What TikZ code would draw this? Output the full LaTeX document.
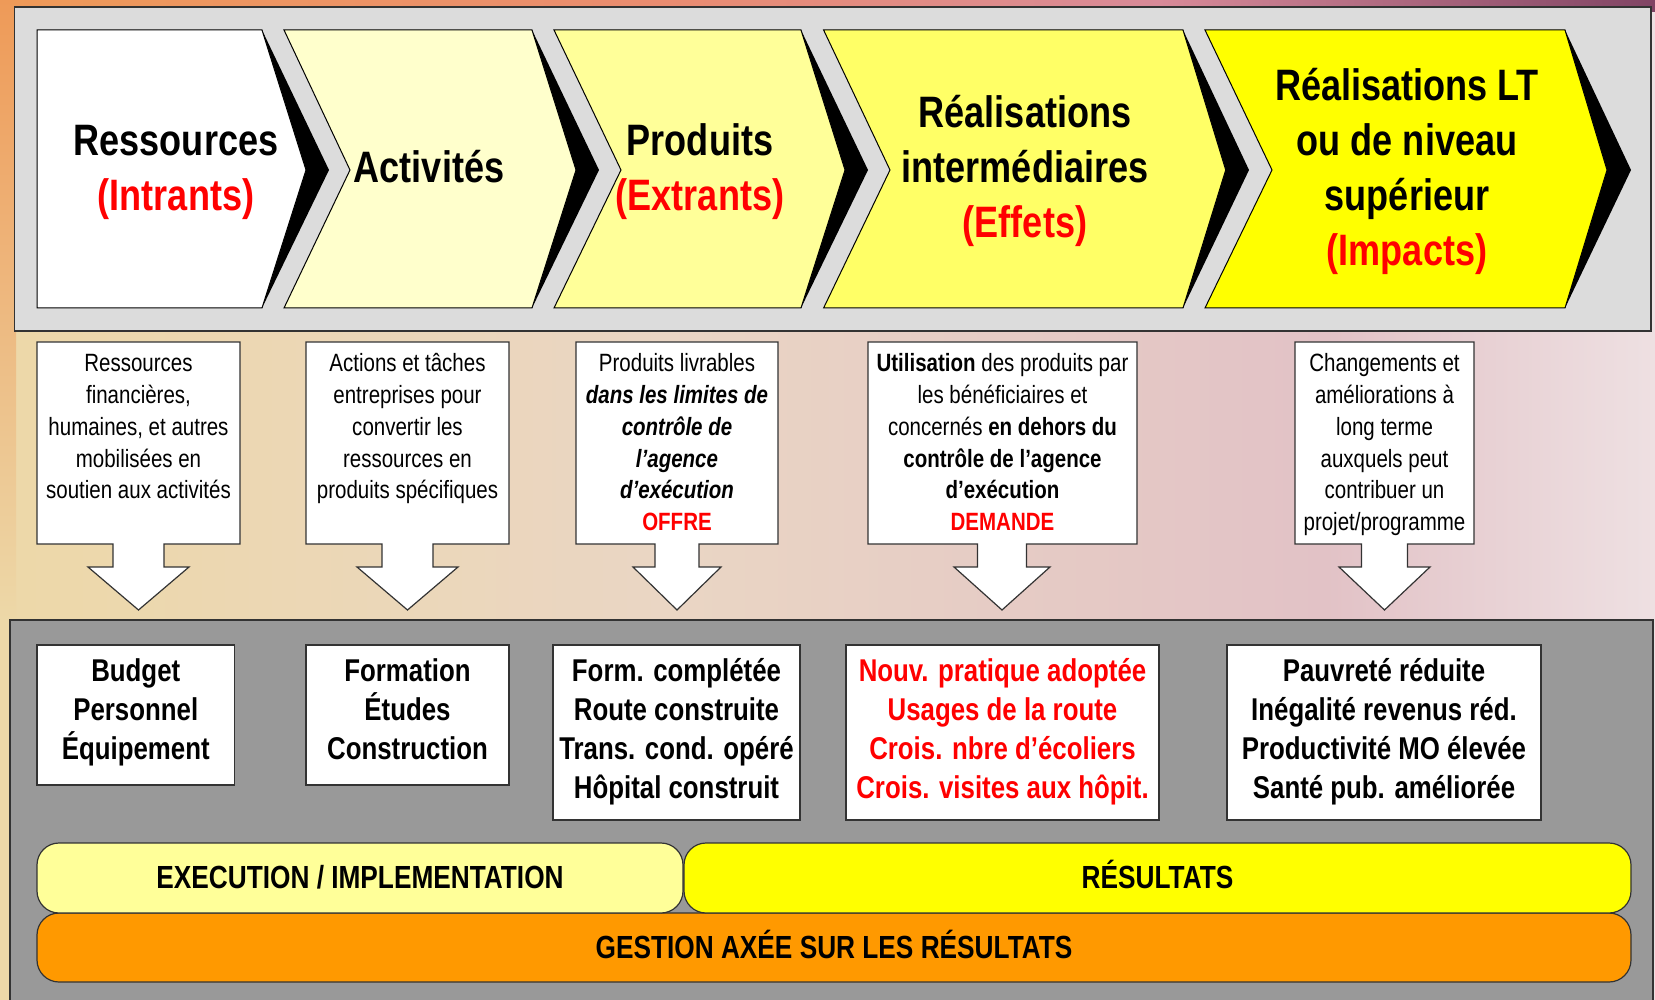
\documentclass[tikz,border=0pt]{standalone}
\usepackage{fontspec}
\setmainfont{Liberation Sans}[FakeStretch=0.82]
\definecolor{panelgray}{HTML}{DCDCDC}
\definecolor{lowgray}{HTML}{999999}
\definecolor{edge}{HTML}{333333}
\definecolor{ch2}{HTML}{FFFFCC}
\definecolor{ch3}{HTML}{FFFF99}
\definecolor{ch4}{HTML}{FFFF66}
\definecolor{ch5}{HTML}{FFFF00}
\definecolor{gar}{HTML}{FF9900}
\definecolor{bgA}{HTML}{EDD8A8}
\definecolor{bgB}{HTML}{EAD6C4}
\definecolor{bgC}{HTML}{E2C2C6}
\definecolor{bgD}{HTML}{EEE0E2}
\definecolor{tpA}{HTML}{EE9A58}
\definecolor{tpB}{HTML}{EA8C70}
\definecolor{tpC}{HTML}{D88A98}
\definecolor{tpD}{HTML}{804464}
\pgfdeclarehorizontalshading{midbg}{100bp}{color(0bp)=(bgA); color(25bp)=(bgA); color(45bp)=(bgB); color(65bp)=(bgC); color(75bp)=(bgD); color(100bp)=(bgD)}
\pgfdeclarehorizontalshading{topbg}{100bp}{color(0bp)=(tpA); color(25bp)=(tpA); color(45bp)=(tpB); color(60bp)=(tpC); color(75bp)=(tpD); color(100bp)=(tpD)}
\newcommand\chev[6]{%
  \fill[black] (#3,30) -- (#5,170) -- (#3,308) -- cycle;
  \filldraw[fill=#6, chevedge] (#1,30) -- (#3,30) -- (#4,170) -- (#3,308) -- (#1,308) -- (#2,170) -- cycle;}
\newcommand\callout[5]{%
  \filldraw[callout] (#1,342) -- (#2,342) -- (#2,544) -- ({#3+#4},544) -- ({#3+#4},567) -- ({#3+#5},567) -- (#3,610) -- ({#3-#5},567) -- ({#3-#4},567) -- ({#3-#4},544) -- (#1,544) -- cycle;}
\newcommand\fstrut{\rule{0pt}{25pt}}
\newcommand\lstrut{\rule[-11pt]{0pt}{11pt}}
\newcommand\lstrutb{\rule[-15pt]{0pt}{15pt}}
\begin{document}
\begin{tikzpicture}[x=1pt,y=-1pt,
  chevtxt/.style={anchor=north, inner sep=0pt, align=center, font=\bfseries\fontsize{44}{55}\selectfont},
  desctxt/.style={anchor=north, inner sep=0pt, align=center, font=\fontsize{25}{31.7}\selectfont},
  resbox/.style={draw=edge, fill=white, line width=1.2pt, align=center, inner sep=2pt, font=\bfseries\fontsize{31.5}{39}\selectfont},
  band/.style={draw=edge, line width=1.2pt, rounded corners=22pt, align=center, inner sep=0pt, text height=21pt, text depth=0pt, font=\bfseries\fontsize{32}{36}\selectfont},
  callout/.style={draw=edge, fill=white, line width=1.2pt},
  chevedge/.style={draw=black, line width=1pt},
  panel/.style={draw=edge, line width=1.5pt}]
\useasboundingbox (0,0) rectangle (1655,1000);
% background
\shade[shading=midbg] (0,0) rectangle (1655,1000);
\shade[shading=topbg] (0,0) rectangle (1655,12);
\shade[top color=tpA, bottom color=bgA] (0,0) rectangle (16,620);
% top panel
\filldraw[panel, fill=panelgray] (14.5,7) rectangle (1651,331);
\chev{37}{37}{262}{306}{329}{white}
\chev{284}{350}{532}{576}{599}{ch2}
\chev{554}{621}{801}{845}{868}{ch3}
\chev{823.6}{890}{1183}{1225.7}{1249}{ch4}
\chev{1205}{1272}{1565}{1607}{1631}{ch5}
\node[chevtxt] (c1) at (176,115) {\rule{0pt}{40pt}Ressources\\\textcolor{red}{(Intrants)}};
\node[chevtxt] (c2) at (429,142) {\rule{0pt}{40pt}Activités};
\node[chevtxt] (c3) at (700,115) {\rule{0pt}{40pt}Produits\\\textcolor{red}{(Extrants)}};
\node[chevtxt] (c4) at (1025,87) {\rule{0pt}{40pt}Réalisations\\intermédiaires\\\textcolor{red}{(Effets)}};
\node[chevtxt] (c5) at (1407,60) {\rule{0pt}{40pt}Réalisations LT\\ou de niveau\\supérieur\\\textcolor{red}{(Impacts)}};
% bottom panel
\filldraw[panel, fill=lowgray] (10,620) rectangle (1653,1010);
% callouts
\callout{37}{240}{138.5}{25.5}{50.5}
\callout{306}{509}{407.5}{25.5}{50.5}
\callout{576}{778}{677}{22}{44}
\callout{868}{1137}{1002}{24.5}{48}
\callout{1295}{1474}{1384.5}{23}{45.5}
\node[desctxt] (d1) at (138.5,350.7) {\rule{0pt}{21pt}Ressources\\financières,\\humaines, et autres\\mobilisées en\\soutien aux activités};
\node[desctxt] (d2) at (407.5,350.7) {\rule{0pt}{21pt}Actions et tâches\\entreprises pour\\convertir les\\ressources en\\produits spécifiques};
\node[desctxt] (d3) at (677,350.7) {\rule{0pt}{21pt}Produits livrables\\\textbf{\textit{dans les limites de}}\\\textbf{\textit{contrôle de}}\\\textbf{\textit{l’agence}}\\\textbf{\textit{d’exécution}}\\\textcolor{red}{\textbf{OFFRE}}};
\node[desctxt] (d4) at (1002.5,350.7) {\rule{0pt}{21pt}\textbf{Utilisation} des produits par\\les bénéficiaires et\\concernés \textbf{en dehors du}\\\textbf{contrôle de l’agence}\\\textbf{d’exécution}\\\textcolor{red}{\textbf{DEMANDE}}};
\node[desctxt] (d5) at (1384.5,350.7) {\rule{0pt}{21pt}Changements et\\améliorations à\\long terme\\auxquels peut\\contribuer un\\projet/programme};
% result boxes
\node[resbox, minimum width=197.5pt, minimum height=140pt] (r1) at (135.75,715) {\fstrut Budget\\Personnel\\Équipement\lstrutb};
\node[resbox, minimum width=203pt, minimum height=140pt] (r2) at (407.5,715) {\fstrut Formation\\Études\\Construction\lstrutb};
\node[resbox, minimum width=247pt, minimum height=175pt] (r3) at (676.5,732.5) {\fstrut Form. complétée\\Route construite\\Trans. cond. opéré\\Hôpital construit\lstrut};
\node[resbox, minimum width=313pt, minimum height=175pt, text=red] (r4) at (1002.5,732.5) {\fstrut Nouv. pratique adoptée\\Usages de la route\\Crois. nbre d’écoliers\\Crois. visites aux hôpit.\lstrut};
\node[resbox, minimum width=314pt, minimum height=175pt] (r5) at (1384,732.5) {\fstrut Pauvreté réduite\\Inégalité revenus réd.\\Productivité MO élevée\\Santé pub. améliorée\lstrut};
% bands
\node[band, fill=gar, minimum width=1594pt, minimum height=69pt] (b3) at (834,947.5) {GESTION AXÉE SUR LES RÉSULTATS};
\node[band, fill=ch3, minimum width=646pt, minimum height=70pt] (b1) at (360,878) {EXECUTION / IMPLEMENTATION};
\node[band, fill=ch5, minimum width=947pt, minimum height=70pt] (b2) at (1157.5,878) {RÉSULTATS};
\end{tikzpicture}
\end{document}
